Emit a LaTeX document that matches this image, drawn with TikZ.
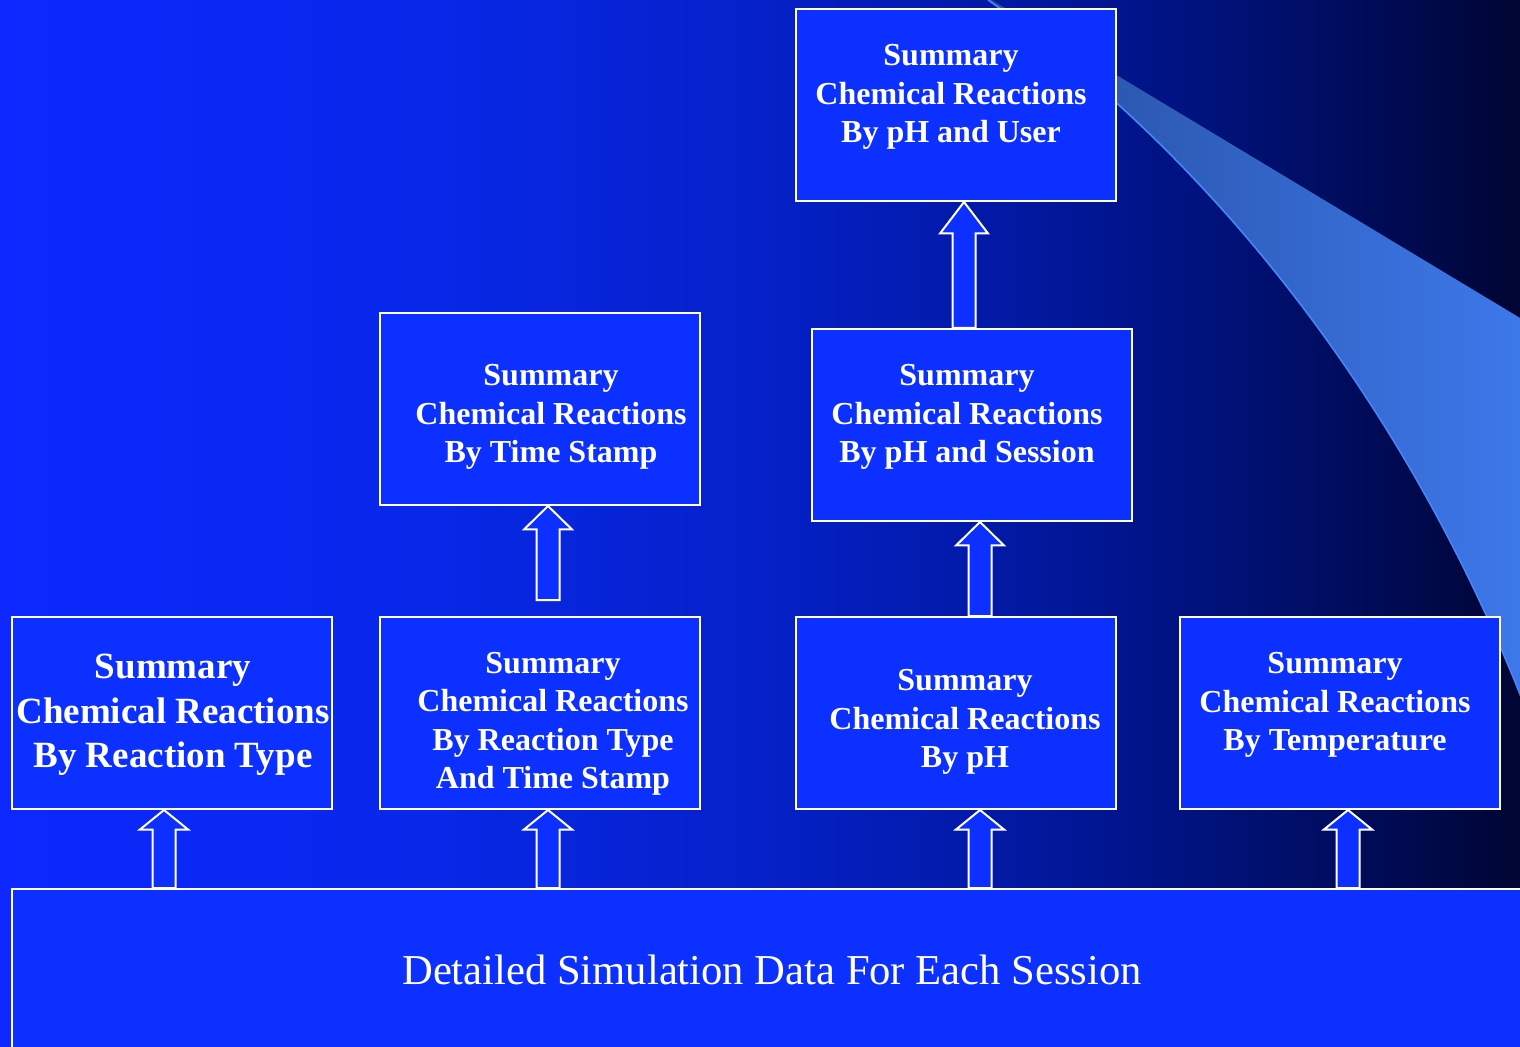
\documentclass[tikz,border=0pt]{standalone}
\usepackage{fontspec}
\setmainfont{Liberation Serif}
\usetikzlibrary{calc}

% background ramp, bright blue on the left to navy on the right
\definecolor{bgA}{RGB}{12,40,255}
\definecolor{bgB}{RGB}{8,40,235}
\definecolor{bgC}{RGB}{5,33,200}
\definecolor{bgD}{RGB}{2,25,165}
\definecolor{bgE}{RGB}{0,18,125}
\definecolor{bgF}{RGB}{0,10,80}
\definecolor{bgG}{RGB}{0,5,50}
\definecolor{boxblue}{RGB}{12,48,255}
\definecolor{swA}{RGB}{38,78,158}
\definecolor{swB}{RGB}{62,122,238}
\definecolor{swEdge}{RGB}{72,132,250}

\pgfdeclarehorizontalshading{bgshade}{100bp}{%
  color(0bp)=(bgA); color(25bp)=(bgA); color(38.2bp)=(bgB);
  color(50bp)=(bgC); color(57.9bp)=(bgD); color(64.5bp)=(bgE);
  color(71.1bp)=(bgF); color(75bp)=(bgG); color(100bp)=(bgG)}

\tikzset{
  boxst/.style={draw=white, line width=1pt, fill=boxblue,
    minimum width=160pt, minimum height=96pt, inner sep=0pt},
  lbl/.style={text=white, align=center, inner sep=0pt,
    font=\bfseries\fontsize{16pt}{19.2pt}\selectfont},
  lblbig/.style={lbl, font=\bfseries\fontsize{18.5pt}{22.3pt}\selectfont},
  basetext/.style={text=white, inner sep=0pt,
    font=\fontsize{21.3pt}{25pt}\selectfont},
  blockarr/.style={draw=white, line width=1pt, fill=boxblue, line join=miter},
}

% hollow block arrow from base point #2 up to tip point #1
\newcommand\blockarrow[2]{%
  \draw[blockarr] let \p1=(#1), \p2=(#2), \p3=($(#1)!0.25!(#2)$) in
    (\x2-5.75pt,\y2) -- (\x2-5.75pt,\y3) -- (\x2-12pt,\y3) -- (\x1,\y1)
    -- (\x2+12pt,\y3) -- (\x2+5.75pt,\y3) -- (\x2+5.75pt,\y2) -- cycle;}

\begin{document}
\begin{tikzpicture}[x=0.5pt,y=-0.5pt]
\useasboundingbox (0,0) rectangle (1520,1047);
\clip (0,0) rectangle (1520,1047);

% backdrop
\fill[shading=bgshade] (0,0) rectangle (1520,1047);

% swoosh band sweeping down the right side
\fill[left color=swA, right color=swB]
  (982,-6) -- (1545,333) -- (1545,760) -- (1530,720)
  .. controls (1420,430) and (1230,170) .. (988,0) -- cycle;
\draw[swEdge, line width=0.8pt] (1530,720) .. controls (1420,430) and (1230,170) .. (988,0);

% boxes
\node[boxst, minimum width=764pt, minimum height=90pt] (base) at (776,979) {};
\node[boxst] (A) at (172,713) {};
\node[boxst] (B) at (540,713) {};
\node[boxst] (C) at (956,713) {};
\node[boxst] (D) at (1340,713) {};
\node[boxst] (E) at (540,409) {};
\node[boxst] (F) at (972,425) {};
\node[boxst] (G) at (956,105) {};

% arrow tips and bases
\coordinate (t1) at ($(A.south)+(-8,0)$);  \coordinate (b1) at (t1 |- base.north);
\coordinate (t2) at ($(B.south)+(8,0)$);   \coordinate (b2) at (t2 |- base.north);
\coordinate (t3) at ($(C.south)+(24,0)$);  \coordinate (b3) at (t3 |- base.north);
\coordinate (t4) at ($(D.south)+(8,0)$);   \coordinate (b4) at (t4 |- base.north);
\coordinate (t5) at ($(E.south)+(8,0)$);   \coordinate (b5) at ($(t5 |- B.north)+(0,-16)$);
\coordinate (t6) at ($(F.south)+(8,0)$);   \coordinate (b6) at (t6 |- C.north);
\coordinate (t7) at ($(G.south)+(8,0)$);   \coordinate (b7) at (t7 |- F.north);

\blockarrow{t1}{b1}
\blockarrow{t2}{b2}
\blockarrow{t3}{b3}
\blockarrow{t4}{b4}
\blockarrow{t5}{b5}
\blockarrow{t6}{b6}
\blockarrow{t7}{b7}

% labels
\node[lblbig] (Atxt) at (173,715) {Summary\\Chemical Reactions\\By Reaction Type};
\node[lbl] (Btxt) at (553,724) {Summary\\Chemical Reactions\\By Reaction Type\\And Time Stamp};
\node[lbl] (Ctxt) at (965,722) {Summary\\Chemical Reactions\\By pH};
\node[lbl] (Dtxt) at (1335,705) {Summary\\Chemical Reactions\\By Temperature};
\node[lbl] (Etxt) at (551,417) {Summary\\Chemical Reactions\\By Time Stamp};
\node[lbl] (Ftxt) at (967,417) {Summary\\Chemical Reactions\\By pH and Session};
\node[lbl] (Gtxt) at (951,97) {Summary\\Chemical Reactions\\By pH and User};
\node[basetext] (basetxt) at (772,970) {Detailed Simulation Data For Each Session};
\end{tikzpicture}
\end{document}
